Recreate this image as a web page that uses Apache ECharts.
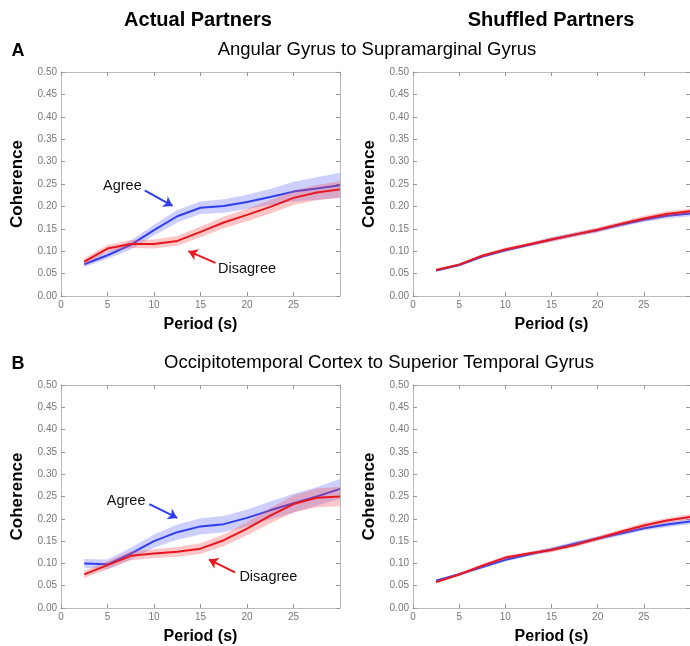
<!DOCTYPE html>
<html>
<head>
<meta charset="utf-8">
<script src="https://cdn.jsdelivr.net/npm/echarts@6/dist/echarts.min.js"></script>
<style>
html,body{margin:0;padding:0;background:#fff;}
#chart{width:690px;height:646px;}
</style>
</head>
<body>
<div id="chart"></div>
<script>
// ---- data ----
const periods = [2.5, 5, 7.5, 10, 12.5, 15, 17.5, 20, 22.5, 25, 27.5, 30];

// Panel A, actual partners
const aActualAgree    = [0.071, 0.091, 0.114, 0.147, 0.178, 0.197, 0.201, 0.210, 0.221, 0.233, 0.240, 0.247];
const aActualAgreeErr = [0.006, 0.008, 0.010, 0.012, 0.014, 0.014, 0.015, 0.016, 0.018, 0.022, 0.025, 0.028];
const aActualDis      = [0.0765, 0.106, 0.116, 0.116, 0.123, 0.143, 0.164, 0.181, 0.199, 0.219, 0.231, 0.238];
const aActualDisErr   = [0.008, 0.008, 0.009, 0.010, 0.011, 0.012, 0.013, 0.014, 0.015, 0.016, 0.017, 0.018];
// Panel A, shuffled partners
const aShufAgree      = [0.057, 0.069, 0.088, 0.102, 0.114, 0.126, 0.137, 0.147, 0.159, 0.170, 0.179, 0.184];
const aShufAgreeErr   = [0.003, 0.003, 0.004, 0.004, 0.004, 0.005, 0.005, 0.005, 0.005, 0.005, 0.006, 0.006];
const aShufDis        = [0.058, 0.070, 0.090, 0.104, 0.115, 0.126, 0.137, 0.148, 0.161, 0.173, 0.183, 0.189];
const aShufDisErr     = [0.003, 0.003, 0.004, 0.004, 0.004, 0.005, 0.005, 0.005, 0.005, 0.006, 0.006, 0.006];
// Panel B, actual partners
const bActualAgree    = [0.100, 0.098, 0.122, 0.150, 0.170, 0.183, 0.188, 0.202, 0.219, 0.235, 0.250, 0.267];
const bActualAgreeErr = [0.010, 0.011, 0.013, 0.015, 0.017, 0.018, 0.018, 0.019, 0.020, 0.021, 0.021, 0.022];
const bActualDis      = [0.0755, 0.096, 0.117, 0.122, 0.126, 0.133, 0.152, 0.178, 0.207, 0.233, 0.247, 0.250];
const bActualDisErr   = [0.008, 0.009, 0.010, 0.010, 0.011, 0.012, 0.013, 0.015, 0.017, 0.019, 0.021, 0.022];
// Panel B, shuffled partners
const bShufAgree      = [0.061, 0.0755, 0.092, 0.108, 0.120, 0.131, 0.144, 0.156, 0.167, 0.179, 0.187, 0.194];
const bShufAgreeErr   = [0.003, 0.003, 0.004, 0.004, 0.004, 0.005, 0.005, 0.005, 0.005, 0.005, 0.006, 0.006];
const bShufDis        = [0.058, 0.075, 0.095, 0.113, 0.122, 0.130, 0.141, 0.156, 0.171, 0.185, 0.196, 0.204];
const bShufDisErr     = [0.003, 0.003, 0.004, 0.004, 0.004, 0.005, 0.005, 0.005, 0.005, 0.006, 0.006, 0.006];

const yTicks = [0, 0.05, 0.10, 0.15, 0.20, 0.25, 0.30, 0.35, 0.40, 0.45, 0.50];
const xTicks = [0, 5, 10, 15, 20, 25, 30];

const columnTitles = ['Actual Partners', 'Shuffled Partners'];
const rowLetters = ['A', 'B'];
const rowTitles = ['Angular Gyrus to Supramarginal Gyrus', 'Occipitotemporal Cortex to Superior Temporal Gyrus'];
const yLabel = 'Coherence';
const xLabel = 'Period (s)';
const seriesNames = ['Agree', 'Disagree'];

// ---- layout / style ----
const FONT = '"Liberation Sans", Arial, sans-serif';
const BLUE = '#2f3ff0';
const RED = '#e8161e';
const BLUE_BAND = 'rgba(90,100,255,0.30)';
const RED_BAND = 'rgba(250,80,80,0.32)';
const FRAME = '#bbbbbb';

const grids = [
  {left: 61,  top: 72,  width: 279, height: 224},
  {left: 413, top: 72,  width: 280, height: 224},
  {left: 61,  top: 385, width: 279, height: 225},
  {left: 413, top: 385, width: 280, height: 224}
];
const panels = [
  {agree: aActualAgree, agreeErr: aActualAgreeErr, dis: aActualDis, disErr: aActualDisErr},
  {agree: aShufAgree,   agreeErr: aShufAgreeErr,   dis: aShufDis,   disErr: aShufDisErr},
  {agree: bActualAgree, agreeErr: bActualAgreeErr, dis: bActualDis, disErr: bActualDisErr},
  {agree: bShufAgree,   agreeErr: bShufAgreeErr,   dis: bShufDis,   disErr: bShufDisErr}
];
// annotation positions in data coordinates for the left panels
const annotations = {
  0: {agreeText: [6.6, 0.245], agreeArrow: [[9.0, 0.236], [12.0, 0.201]],
      disText: [20.0, 0.060], disArrow: [[16.6, 0.074], [13.7, 0.100]]},
  2: {agreeText: [7.0, 0.240], agreeArrow: [[9.5, 0.233], [12.5, 0.202]],
      disText: [22.3, 0.069], disArrow: [[18.7, 0.080], [15.9, 0.109]]}
};

const xAxes = [], yAxes = [], series = [];
grids.forEach((g, i) => {
  xAxes.push({
    type: 'value', gridIndex: i, min: 0, max: 30, interval: 5, position: 'bottom',
    name: xLabel, nameLocation: 'middle', nameGap: 21,
    nameTextStyle: {fontFamily: FONT, fontWeight: 'bold', fontSize: 16, color: '#000'},
    axisLine: {show: true, onZero: false, lineStyle: {color: FRAME, width: 1}},
    axisTick: {show: true, inside: true, length: 4, lineStyle: {color: '#999'}},
    axisLabel: {show: true, fontFamily: FONT, fontSize: 10, color: '#777', margin: 4, showMaxLabel: false},
    splitLine: {show: false}
  });
  xAxes.push({
    type: 'value', gridIndex: i, min: 0, max: 30, interval: 5, position: 'top',
    axisLine: {show: true, onZero: false, lineStyle: {color: FRAME, width: 1}},
    axisTick: {show: true, inside: true, length: 4, lineStyle: {color: '#999'}},
    axisLabel: {show: false}, splitLine: {show: false}
  });
  yAxes.push({
    type: 'value', gridIndex: i, min: 0, max: 0.5, interval: 0.05, position: 'left',
    name: yLabel, nameLocation: 'middle', nameGap: 35,
    nameTextStyle: {fontFamily: FONT, fontWeight: 'bold', fontSize: 17, color: '#000'},
    axisLine: {show: true, onZero: false, lineStyle: {color: FRAME, width: 1}},
    axisTick: {show: true, inside: true, length: 4, lineStyle: {color: '#999'}},
    axisLabel: {show: true, fontFamily: FONT, fontSize: 10, color: '#777', margin: 4,
      formatter: v => v.toFixed(2)},
    splitLine: {show: false}
  });
  yAxes.push({
    type: 'value', gridIndex: i, min: 0, max: 0.5, interval: 0.05, position: 'right',
    axisLine: {show: true, onZero: false, lineStyle: {color: FRAME, width: 1}},
    axisTick: {show: true, inside: true, length: 4, lineStyle: {color: '#999'}},
    axisLabel: {show: false}, splitLine: {show: false}
  });

  const p = panels[i];
  const xi = i * 2, yi = i * 2;
  const mk = (mean, err, color, band, name, extra, zBase) => {
    const bandData = periods.map((x, k) => [x, mean[k] - err[k], mean[k] + err[k]]);
    series.push({
      type: 'custom', xAxisIndex: xi, yAxisIndex: yi, silent: true, z: zBase,
      encode: {x: 0, y: [1, 2]},
      data: bandData,
      renderItem: (params, api) => {
        if (params.dataIndex !== 0) return null;
        const top = bandData.map(d => api.coord([d[0], d[2]]));
        const bot = bandData.map(d => api.coord([d[0], d[1]])).reverse();
        return {type: 'polygon', shape: {points: top.concat(bot)}, style: {fill: band}};
      }
    });
    const s = {
      type: 'line', name: name, xAxisIndex: xi, yAxisIndex: yi,
      data: periods.map((x, k) => [x, mean[k]]),
      symbol: 'none', lineStyle: {color: color, width: 2}, itemStyle: {color: color}, z: zBase + 1
    };
    Object.assign(s, extra || {});
    series.push(s);
  };

  const ann = annotations[i];
  let agreeExtra = null, disExtra = null;
  if (ann) {
    const textPoint = (coord, txt) => ({
      coord: coord, symbol: 'circle', symbolSize: 1, itemStyle: {color: 'rgba(0,0,0,0)'},
      label: {show: true, position: 'inside', formatter: txt, fontFamily: FONT, fontSize: 14.5, color: '#111'}
    });
    const arrow = (pts, color) => ({
      silent: true, animation: false,
      symbol: ['none', 'arrow'], symbolSize: 9,
      lineStyle: {color: color, width: 2, type: 'solid'},
      label: {show: false},
      data: [[{coord: pts[0]}, {coord: pts[1]}]]
    });
    agreeExtra = {
      markLine: arrow(ann.agreeArrow, BLUE),
      markPoint: {silent: true, animation: false, data: [textPoint(ann.agreeText, seriesNames[0])]}
    };
    disExtra = {
      markLine: arrow(ann.disArrow, RED),
      markPoint: {silent: true, animation: false, data: [textPoint(ann.disText, seriesNames[1])]}
    };
  }
  mk(p.agree, p.agreeErr, BLUE, BLUE_BAND, seriesNames[0], agreeExtra, 2);
  mk(p.dis, p.disErr, RED, RED_BAND, seriesNames[1], disExtra, 4);
});

const txt = (x, y, text, size, weight) => ({
  type: 'text', x: x, y: y, silent: true,
  style: {text: text, fontFamily: FONT, fontSize: size, fontWeight: weight, fill: '#000',
          textAlign: 'center', textVerticalAlign: 'middle', align: 'center', verticalAlign: 'middle'}
});
const g = [
  txt(198, 20, columnTitles[0], 20, 'bold'),
  txt(551, 20, columnTitles[1], 20, 'bold'),
  txt(18, 51, rowLetters[0], 18, 'bold'),
  txt(377, 50, rowTitles[0], 18.5, 'normal'),
  txt(18, 364, rowLetters[1], 18, 'bold'),
  txt(379, 363, rowTitles[1], 18.5, 'normal')
];

const chart = echarts.init(document.getElementById('chart'), null, {renderer: 'canvas'});
chart.setOption({
  backgroundColor: '#fff',
  animation: false,
  grid: grids.map(gr => Object.assign({containLabel: false}, gr)),
  xAxis: xAxes,
  yAxis: yAxes,
  series: series,
  graphic: g
});
</script>
</body>
</html>
